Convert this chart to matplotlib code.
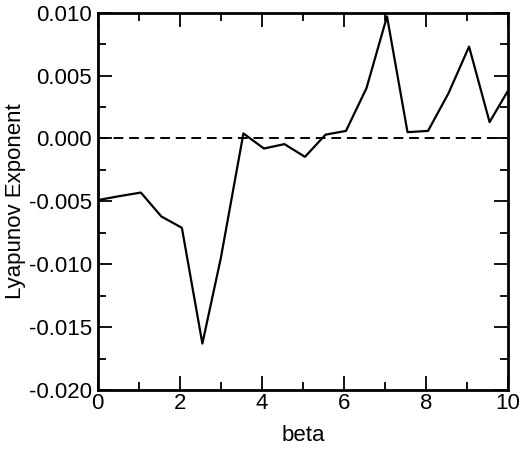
import matplotlib
matplotlib.use("Agg")
import matplotlib.pyplot as plt
from matplotlib.ticker import MultipleLocator

# values
beta = [0.0, 0.5, 1.05, 1.55, 2.05, 2.55, 3.0, 3.55, 4.05, 4.55, 5.05,
        5.55, 6.05, 6.55, 7.05, 7.55, 8.05, 8.55, 9.05, 9.55, 10.0]
lyap = [-0.0049, -0.0046, -0.0043, -0.0062, -0.0071, -0.0163, -0.0095,
        0.0004, -0.0008, -0.00045, -0.00146, 0.0003, 0.0006, 0.0040,
        0.0097, 0.0005, 0.0006, 0.0036, 0.0073, 0.0013, 0.0038]

plt.rcParams['font.family'] = ['Liberation Sans', 'DejaVu Sans']

fig = plt.figure(figsize=(5.2, 4.51), dpi=100)
ax = fig.add_axes([0.188, 0.135, 0.789, 0.837])

ax.plot(beta, lyap, color='black', lw=1.6)
ax.axhline(0.0, color='black', lw=1.4, ls=(0, (5, 3)))

ax.set_xlim(0, 10)
ax.set_ylim(-0.020, 0.010)
ax.xaxis.set_major_locator(MultipleLocator(2))
ax.xaxis.set_minor_locator(MultipleLocator(1))
ax.yaxis.set_major_locator(MultipleLocator(0.005))
ax.yaxis.set_minor_locator(MultipleLocator(0.0025))
ax.yaxis.set_major_formatter(matplotlib.ticker.FormatStrFormatter('%.3f'))

ax.tick_params(which='both', direction='in', top=True, right=True, width=1.3, labelsize=16)
ax.tick_params(axis='x', pad=2)
ax.tick_params(axis='y', pad=4)
ax.tick_params(which='major', length=10)
ax.tick_params(which='minor', length=6)
for s in ax.spines.values():
    s.set_linewidth(2)

ax.set_xlabel('beta', fontsize=16, labelpad=8)
ax.set_ylabel('Lyapunov Exponent', fontsize=16, labelpad=2)

fig.savefig('out.png', dpi=100)
